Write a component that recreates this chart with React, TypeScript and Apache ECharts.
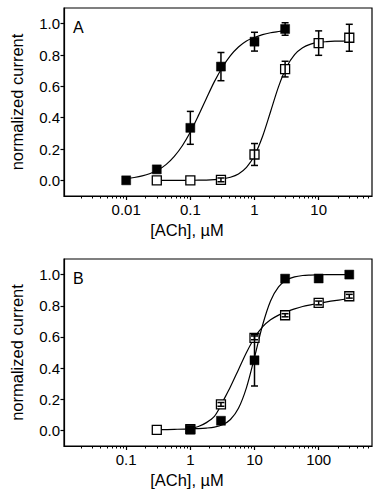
import React, { useEffect, useRef } from "react";
import * as echarts from "echarts";

// ---- Panel A data ----
const concA_filled = [0.01, 0.03, 0.1, 0.3, 1, 3];
const respA_filled = [0.0, 0.07, 0.335, 0.726, 0.885, 0.966];
const errA_filled = [0, 0, 0.105, 0.09, 0.06, 0.04];

const concA_open = [0.03, 0.1, 0.3, 1, 3, 10, 30];
const respA_open = [0.0, 0.0, 0.003, 0.165, 0.71, 0.876, 0.91];
const errA_open = [0, 0, 0.012, 0.07, 0.05, 0.078, 0.086];

// fitted curves
const curveA_filled_x = [0.01, 0.01334, 0.01778, 0.02371, 0.03162, 0.04217, 0.05623, 0.07499, 0.1, 0.1334, 0.1778, 0.2371, 0.3162, 0.4217, 0.5623, 0.7499, 1, 1.334, 1.778, 2.371, 3];
const curveA_filled_y = [0.011, 0.018, 0.028, 0.044, 0.067, 0.102, 0.153, 0.221, 0.309, 0.413, 0.523, 0.63, 0.722, 0.796, 0.851, 0.89, 0.912, 0.93, 0.942, 0.95, 0.956];
const curveA_open_x = [0.03, 0.05623, 0.1, 0.1334, 0.1778, 0.2371, 0.3162, 0.4217, 0.5623, 0.7499, 1, 1.334, 1.778, 2.371, 3.162, 4.217, 5.623, 7.499, 10, 13.34, 17.78, 23.71, 30];
const curveA_open_y = [0.0, 0.0, 0.0003, 0.0007, 0.0017, 0.0046, 0.0096, 0.02, 0.041, 0.083, 0.159, 0.28, 0.438, 0.598, 0.723, 0.802, 0.846, 0.869, 0.88, 0.885, 0.888, 0.889, 0.89];

// ---- Panel B data ----
const concB_filled = [1, 3, 10, 30, 100, 300];
const respB_filled = [0.005, 0.062, 0.45, 0.974, 0.975, 1.0];
const errB_filled = [0, 0, 0.165, 0.01, 0.01, 0];

const concB_open = [0.3, 1, 3, 10, 30, 100, 300];
const respB_open = [0.003, 0.008, 0.167, 0.594, 0.739, 0.818, 0.861];
const errB_open = [0, 0, 0.012, 0.012, 0.01, 0.012, 0.012];

const curveB_filled_x = [1, 1.334, 1.778, 2.371, 3.162, 4.217, 5.623, 7.499, 10, 13.34, 17.78, 23.71, 31.62, 42.17, 56.23, 74.99, 100, 177.8, 300];
const curveB_filled_y = [0.011, 0.012, 0.015, 0.021, 0.036, 0.07, 0.142, 0.275, 0.469, 0.675, 0.831, 0.921, 0.965, 0.985, 0.994, 0.997, 0.999, 1.0, 1.0];
const curveB_open_x = [0.3, 0.5623, 1, 1.334, 1.778, 2.371, 3, 3.162, 4.217, 5.623, 7.499, 10, 13.34, 17.78, 23.71, 31.62, 42.17, 56.23, 74.99, 100, 133.4, 177.8, 237.1, 300];
const curveB_open_y = [0.005, 0.007, 0.012, 0.025, 0.05, 0.09, 0.16, 0.18, 0.28, 0.39, 0.5, 0.595, 0.665, 0.71, 0.74, 0.763, 0.78, 0.795, 0.806, 0.816, 0.825, 0.833, 0.84, 0.845];

// ---- axes ----
const yTicks = [0, 0.2, 0.4, 0.6, 0.8, 1.0];
const xTicksA = [0.01, 0.1, 1, 10];
const xTicksB = [0.1, 1, 10, 100];
const decadesA = [0.001, 0.01, 0.1, 1, 10];
const decadesB = [0.01, 0.1, 1, 10, 100];
const minorMult = [2, 3, 4, 5, 6, 7, 8, 9];

const yName = "normalized current";
const xName = "[ACh], µM";

const FONT = "Liberation Sans, Arial, Helvetica, sans-serif";

function minorTicks(decades: number[], min: number, max: number) {
  const out: number[] = [];
  decades.forEach((d) => minorMult.forEach((m) => {
    const v = Number((d * m).toPrecision(3));
    if (v > min && v < max) out.push(v);
  }));
  return out;
}

const zip = (xs: number[], ys: number[]) => xs.map((x, i) => [x, ys[i]]);
const zip3 = (xs: number[], ys: number[], es: number[]) => xs.map((x, i) => [x, ys[i], es[i]]);

function errRender(params: any, api: any) {
  const x = api.value(0), y = api.value(1), e = api.value(2);
  if (!e) return null;
  const t = api.coord([x, y + e]);
  const b = api.coord([x, y - e]);
  const w = 3.5;
  const st = { stroke: "#000", lineWidth: 1.5 };
  return {
    type: "group",
    children: [
      { type: "line", shape: { x1: t[0], y1: t[1], x2: b[0], y2: b[1] }, style: st },
      { type: "line", shape: { x1: t[0] - w, y1: t[1], x2: t[0] + w, y2: t[1] }, style: st },
      { type: "line", shape: { x1: b[0] - w, y1: b[1], x2: b[0] + w, y2: b[1] }, style: st },
    ],
  };
}

export default function App() {
  const ref = useRef<HTMLDivElement>(null);
  useEffect(() => {
    if (!ref.current) return;
    const chart = echarts.init(ref.current, undefined, { renderer: "svg" });
    const minA = 0.001074, maxA = 67.8;
    const minB = 0.01074, maxB = 678;

    const labelStyle = { color: "#000", fontSize: 15, fontFamily: FONT };
    const fmtX = (v: number) => String(Number(Number(v).toPrecision(3)));

    const mainX = (gi: number, min: number, max: number, ticks: number[]) => ({
      type: "log", gridIndex: gi, min, max, position: "bottom",
      axisLine: { show: true, onZero: false, lineStyle: { color: "#000", width: 1.2 } },
      axisTick: { show: true, length: 4, customValues: ticks, lineStyle: { color: "#000", width: 1.2 } },
      axisLabel: { ...labelStyle, margin: 6, customValues: ticks, formatter: fmtX },
      splitLine: { show: false },
    });
    const minorX = (gi: number, min: number, max: number, decades: number[]) => ({
      type: "log", gridIndex: gi, min, max, position: "bottom",
      axisLine: { show: false, onZero: false },
      axisTick: { show: true, length: 2.5, customValues: minorTicks(decades, min, max), lineStyle: { color: "#000", width: 1 } },
      axisLabel: { show: false },
      splitLine: { show: false },
    });
    const yAx = (gi: number) => ({
      type: "value", gridIndex: gi, min: -0.1, max: 1.1,
      name: yName, nameLocation: "middle", nameRotate: 90, nameGap: 39,
      nameTextStyle: { color: "#000", fontSize: 16.5, fontFamily: FONT },
      axisLine: { show: true, onZero: false, lineStyle: { color: "#000", width: 1.2 } },
      axisTick: { show: true, length: 3.5, customValues: yTicks, lineStyle: { color: "#000", width: 1.2 } },
      axisLabel: { ...labelStyle, margin: 4, customValues: yTicks, formatter: (v: number) => Number(v).toFixed(1) },
      splitLine: { show: false },
    });

    const curve = (xi: number, yi: number, xs: number[], ys: number[]) => ({
      type: "line", xAxisIndex: xi, yAxisIndex: yi, data: zip(xs, ys),
      smooth: 0.3, showSymbol: false, symbol: "none", z: 1,
      lineStyle: { color: "#000", width: 1.2 }, silent: true,
    });
    const marks = (xi: number, yi: number, xs: number[], ys: number[], filled: boolean) => ({
      type: "scatter", xAxisIndex: xi, yAxisIndex: yi, data: zip(xs, ys),
      symbol: "rect", symbolSize: 9, z: filled ? 4 : 3,
      itemStyle: filled
        ? { color: "#000", borderColor: "#000", borderWidth: 0.5, opacity: 1 }
        : { color: "#fff", borderColor: "#000", borderWidth: 1.3, opacity: 1 },
    });
    const errs = (xi: number, yi: number, xs: number[], ys: number[], es: number[], z: number) => ({
      type: "custom", xAxisIndex: xi, yAxisIndex: yi, data: zip3(xs, ys, es),
      encode: { x: 0, y: 1 }, renderItem: errRender, z, silent: true,
    });

    chart.setOption({
      animation: false,
      backgroundColor: "#fff",
      grid: [
        { left: 60, top: 8, width: 312, height: 188, show: true, borderColor: "#000", borderWidth: 1.2, backgroundColor: "transparent" },
        { left: 60, top: 259, width: 312, height: 187, show: true, borderColor: "#000", borderWidth: 1.2, backgroundColor: "transparent" },
      ],
      xAxis: [
        mainX(0, minA, maxA, xTicksA),
        minorX(0, minA, maxA, decadesA),
        mainX(1, minB, maxB, xTicksB),
        minorX(1, minB, maxB, decadesB),
      ],
      yAxis: [yAx(0), yAx(1)],
      graphic: [
        { type: "text", x: 73, y: 27, style: { text: "A", fontSize: 16, fontFamily: FONT, fill: "#000", textVerticalAlign: "middle" } },
        { type: "text", x: 73, y: 278, style: { text: "B", fontSize: 16, fontFamily: FONT, fill: "#000", textVerticalAlign: "middle" } },
        { type: "text", x: 187, y: 230, style: { text: xName, fontSize: 16.5, fontFamily: FONT, fill: "#000", textAlign: "center", textVerticalAlign: "middle" } },
        { type: "text", x: 187, y: 480, style: { text: xName, fontSize: 16.5, fontFamily: FONT, fill: "#000", textAlign: "center", textVerticalAlign: "middle" } },
      ],
      series: [
        curve(0, 0, curveA_filled_x, curveA_filled_y),
        curve(0, 0, curveA_open_x, curveA_open_y),
        marks(0, 0, concA_open, respA_open, false),
        marks(0, 0, concA_filled, respA_filled, true),
        errs(0, 0, concA_open, respA_open, errA_open, 5),
        errs(0, 0, concA_filled, respA_filled, errA_filled, 5),

        curve(2, 1, curveB_filled_x, curveB_filled_y),
        curve(2, 1, curveB_open_x, curveB_open_y),
        marks(2, 1, concB_open, respB_open, false),
        marks(2, 1, concB_filled, respB_filled, true),
        errs(2, 1, concB_open, respB_open, errB_open, 5),
        errs(2, 1, concB_filled, respB_filled, errB_filled, 5),
      ],
    });
    return () => chart.dispose();
  }, []);
  return <div ref={ref} style={{ position: "fixed", left: 0, top: 0, width: 380, height: 500, background: "#fff" }} />;
}
